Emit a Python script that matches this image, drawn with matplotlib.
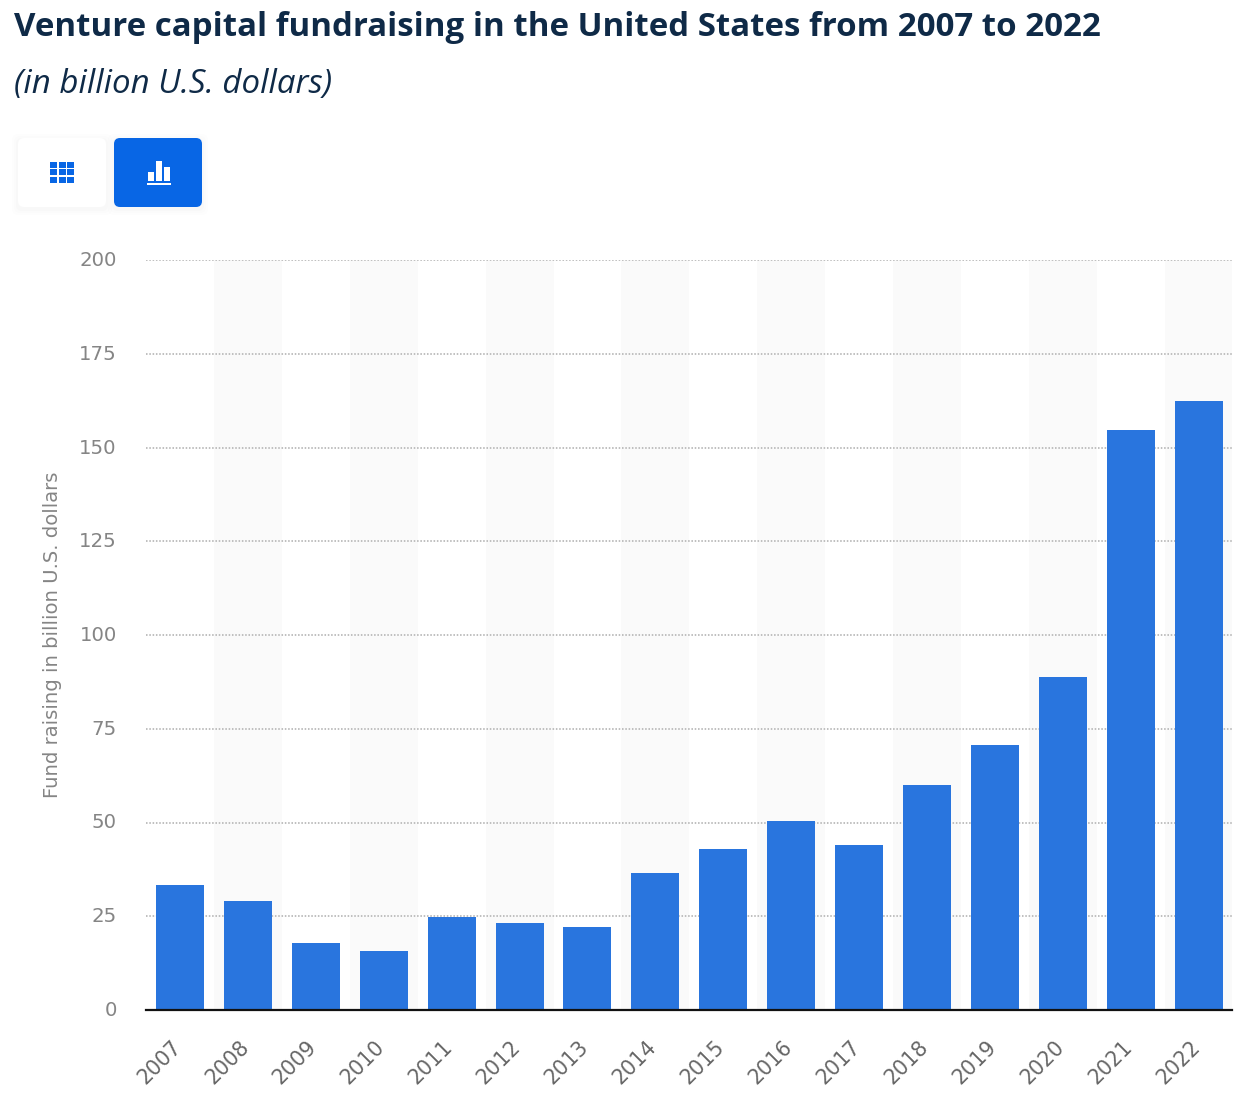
import matplotlib
matplotlib.use("Agg")
from matplotlib import pyplot as plt
from matplotlib.patches import FancyBboxPatch, Rectangle
from matplotlib.transforms import ScaledTranslation

years = [2007, 2008, 2009, 2010, 2011, 2012, 2013, 2014, 2015, 2016, 2017, 2018, 2019, 2020, 2021, 2022]
funds = [33.3, 29.1, 17.9, 15.7, 24.8, 23.2, 22.1, 36.5, 42.9, 50.4, 44.0, 60.0, 70.7, 88.8, 154.6, 162.5]
yticks = [0, 25, 50, 75, 100, 125, 150, 175, 200]

W, H = 1254, 1112
plt.rcParams["font.family"] = ["Open Sans", "DejaVu Sans"]

fig = plt.figure(figsize=(W / 100, H / 100), dpi=100, facecolor="white")

# overlay in pixel coords for the title block and the two buttons
over = fig.add_axes([0, 0, 1, 1])
over.set_xlim(0, W)
over.set_ylim(H, 0)
over.axis("off")

over.text(14, 28, "Venture capital fundraising in the United States from 2007 to 2022",
          fontsize=23.8, fontweight="bold", color="#0f2a47", va="center", ha="left")
over.text(14, 84, "(in billion U.S. dollars)", fontsize=23.8, fontstyle="italic",
          color="#0f2a47", va="center", ha="left")

blue = "#0866e5"
for dy, a in [(6, 0.006), (4, 0.009), (2, 0.012)]:
    for bx in [18, 114]:
        over.add_patch(FancyBboxPatch((bx - dy, 138 - dy + 2), 88 + 2 * dy, 69 + 2 * dy,
                                      boxstyle="round,pad=0,rounding_size=6", fc="black", ec="none", alpha=a))
over.add_patch(FancyBboxPatch((18, 138), 88, 69, boxstyle="round,pad=0,rounding_size=6", fc="white", ec="none"))
over.add_patch(FancyBboxPatch((114, 138), 88, 69, boxstyle="round,pad=0,rounding_size=6", fc=blue, ec="none"))

# table icon
for row in range(3):
    for col in range(3):
        over.add_patch(Rectangle((50 + col * 8.6, 162 + row * 7.4), 7, 5.8, fc=blue, ec="none"))

# bar icon
over.add_patch(Rectangle((147.5, 172), 6, 8.5, fc="white", ec="none"))
over.add_patch(Rectangle((155.5, 161), 6, 19.5, fc="white", ec="none"))
over.add_patch(Rectangle((163.5, 167), 6, 13.5, fc="white", ec="none"))
over.add_patch(Rectangle((147, 182.5), 24, 2, fc="white", ec="none"))

# chart area
left, right, top, bottom = 146, 1232, 260, 1010
ax = fig.add_axes([left / W, 1 - bottom / H, (right - left) / W, (bottom - top) / H])
ax.patch.set_alpha(0)
x = list(range(len(years)))
ax.set_xlim(-0.5, 15.49)
ax.set_ylim(0, 200)

for i in x:
    if i % 2 == 1:
        ax.axvspan(i - 0.5, i + 0.5, color="#fafafa", lw=0, zorder=0)

ax.bar(x, funds, width=0.707, color="#2975de", zorder=3)

ax.set_yticks(yticks)
ax.set_xticks(x)
ax.set_xticklabels(years, rotation=45, ha="right", va="top", rotation_mode="default")
ax.yaxis.grid(True, color="#bfbfbf", lw=1.4, ls=(0, (0.8, 0.9)), zorder=1)
ax.set_axisbelow(True)
for name in ["top", "left", "right"]:
    ax.spines[name].set_visible(False)
ax.spines["bottom"].set_color("#111111")
ax.spines["bottom"].set_linewidth(1.6)
ax.spines["bottom"].set_zorder(5)
ax.tick_params(axis="y", length=0, labelsize=14.2, labelcolor="#858585", pad=21)
ax.tick_params(axis="x", length=0, labelsize=14.8, labelcolor="#666666", pad=19)

# nudge tick labels a few pixels, they sit off the plain matplotlib spot
shift_x = ScaledTranslation(5 / 100, 0, fig.dpi_scale_trans)
shift_y = ScaledTranslation(0, 1.5 / 100, fig.dpi_scale_trans)
for lab in ax.get_xticklabels():
    lab.set_fontfamily("DejaVu Sans")
    lab.set_transform(lab.get_transform() + shift_x)
for lab in ax.get_yticklabels():
    lab.set_fontfamily("DejaVu Sans")
    lab.set_transform(lab.get_transform() + shift_y)

over.text(53, 635, "Fund raising in billion U.S. dollars", rotation=90, fontsize=14.1,
          color="#858585", va="center", ha="center", family="DejaVu Sans")

fig.savefig("out.png", dpi=100)
